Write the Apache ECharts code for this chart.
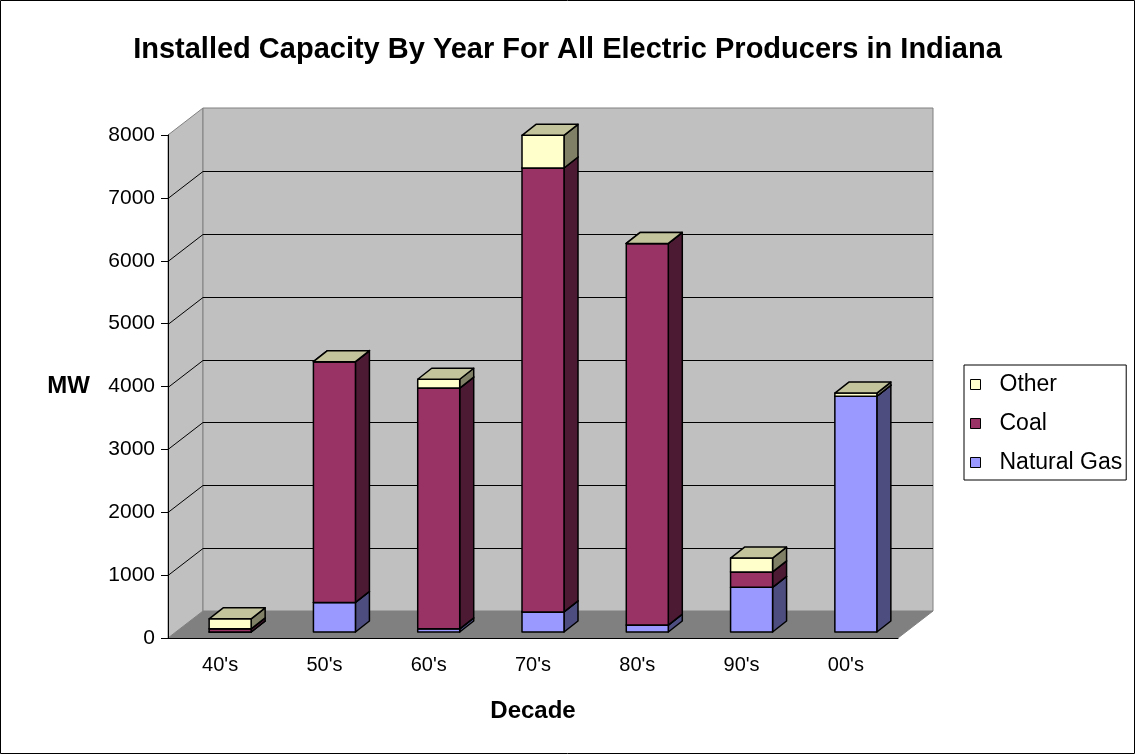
<!DOCTYPE html>
<html>
<head>
<meta charset="utf-8">
<title>Installed Capacity By Year For All Electric Producers in Indiana</title>
<script src="https://cdn.jsdelivr.net/npm/echarts@6/dist/echarts.min.js"></script>
<style>
  html, body { margin: 0; padding: 0; background: #fff; }
  #chart { width: 1135px; height: 754px; }
</style>
</head>
<body>
<div id="chart"></div>
<script>
// values (MW)
const decades = ["40's", "50's", "60's", "70's", "80's", "90's", "00's"];
const naturalGas = [0, 470, 50, 320, 110, 710, 3750];
const coal = [50, 3830, 3830, 7060, 6070, 245, 0];
const other = [160, 0, 140, 520, 0, 220, 50];
const yTicks = [0, 1000, 2000, 3000, 4000, 5000, 6000, 7000, 8000];

const font = "Arial, 'Liberation Sans', sans-serif";
// depth of the walls and of the boxes, in px
const DX = 35, DY = 27;
const BX = 14, BY = 11;

const palette = {
  "Natural Gas": { front: "#9999ff", side: "#4d4d80", top: "#7a7acc" },
  Coal: { front: "#993366", side: "#4d1a33", top: "#7a2952" },
  Other: { front: "#ffffcc", side: "#808066", top: "#c4c49c" },
};

// stack the segments: [categoryIndex, base, top]
function stackRows(lower, values) {
  return values.map((v, i) => {
    const base = lower.reduce((s, arr) => s + arr[i], 0);
    return [i, base, base + v];
  });
}

function wallItem(params, api) {
  const cs = params.coordSys;
  const x0 = cs.x, x1 = cs.x + cs.width;
  const y0 = api.coord([0, yTicks[0]])[1];
  const yT = api.coord([0, yTicks[yTicks.length - 1]])[1];
  const edge = { stroke: "#808080", lineWidth: 1 };
  const children = [
    {
      type: "polygon",
      shape: { points: [[x0, y0], [x1, y0], [x1 + DX, y0 - DY], [x0 + DX, y0 - DY]] },
      style: { fill: "#808080", ...edge },
    },
    {
      type: "polygon",
      shape: { points: [[x0, y0], [x0, yT], [x0 + DX, yT - DY], [x0 + DX, y0 - DY]] },
      style: { fill: "#c0c0c0", ...edge },
    },
    {
      type: "rect",
      shape: { x: x0 + DX, y: yT - DY, width: x1 - x0, height: y0 - yT },
      style: { fill: "#c0c0c0", ...edge },
    },
  ];
  yTicks.slice(1, -1).forEach((v) => {
    const y = Math.round(api.coord([0, v])[1]) + 0.5;
    children.push({
      type: "polyline",
      shape: { points: [[x0, y], [x0 + DX, y - DY], [x1 + DX, y - DY]] },
      style: { stroke: "#000", lineWidth: 1, fill: null },
    });
  });
  return { type: "group", children };
}

function boxItem(c) {
  return function (params, api) {
    const i = api.value(0);
    const b = api.coord([i, api.value(1)]);
    const t = api.coord([i, api.value(2)]);
    const xl = b[0] - 11, xr = b[0] + 31;
    const yb = b[1] - 6, yt = t[1] - 6;
    const line = { stroke: "#000", lineWidth: 1.5, lineJoin: "round" };
    return {
      type: "group",
      children: [
        {
          type: "polygon",
          shape: { points: [[xr, yb], [xr, yt], [xr + BX, yt - BY], [xr + BX, yb - BY]] },
          style: { fill: c.side, ...line },
        },
        {
          type: "rect",
          shape: { x: xl, y: yt, width: xr - xl, height: yb - yt },
          style: { fill: c.front, ...line },
        },
        {
          type: "polygon",
          shape: { points: [[xl, yt], [xr, yt], [xr + BX, yt - BY], [xl + BX, yt - BY]] },
          style: { fill: c.top, ...line },
        },
      ],
    };
  };
}

function boxSeries(name, rows) {
  return {
    name,
    type: "custom",
    renderItem: boxItem(palette[name]),
    itemStyle: { color: palette[name].front },
    encode: { x: 0, y: [1, 2] },
    data: rows,
  };
}

const chart = echarts.init(document.getElementById("chart"));
chart.setOption({
  animation: false,
  title: {
    text: "Installed Capacity By Year For All Electric Producers in Indiana",
    left: "center",
    top: 35,
    padding: 0,
    textStyle: { fontFamily: font, fontSize: 29, fontWeight: "bold", color: "#000" },
  },
  legend: {
    orient: "vertical",
    left: 964,
    top: 365,
    data: ["Other", "Coal", "Natural Gas"],
    backgroundColor: "#fff",
    borderColor: "#000",
    borderWidth: 1,
    borderRadius: 0,
    padding: [8, 4, 6, 6],
    itemGap: 16,
    itemWidth: 10,
    itemHeight: 10,
    icon: "rect",
    itemStyle: { borderColor: "#000", borderWidth: 1 },
    textStyle: { fontFamily: font, fontSize: 23, color: "#000", padding: [0, 0, 0, 14] },
  },
  graphic: [
    {
      type: "rect",
      shape: { x: 0.5, y: 0.5, width: 1134, height: 753 },
      style: { fill: null, stroke: "#000", lineWidth: 1 },
      silent: true,
    },
  ],
  grid: { left: 168, top: 135, width: 730, height: 503 },
  xAxis: {
    type: "category",
    data: decades,
    name: "Decade",
    nameLocation: "middle",
    nameGap: 61,
    nameTextStyle: { fontFamily: font, fontSize: 24, fontWeight: "bold", color: "#000" },
    axisLine: { lineStyle: { color: "#000", width: 1 } },
    axisTick: { length: 8, lineStyle: { color: "#000" } },
    axisLabel: { fontFamily: font, fontSize: 20, color: "#000", margin: 17 },
  },
  yAxis: {
    type: "value",
    min: 0,
    max: 8000,
    interval: 1000,
    name: "MW",
    nameLocation: "middle",
    nameRotate: 0,
    nameGap: 78,
    nameTextStyle: { fontFamily: font, fontSize: 24, fontWeight: "bold", color: "#000" },
    axisLine: { show: true, lineStyle: { color: "#000", width: 1 } },
    axisTick: { show: true, length: 7, lineStyle: { color: "#000" } },
    axisLabel: {
      fontFamily: font,
      fontSize: 21,
      color: "#000",
      margin: 13,
      formatter: (v) => String(v),
    },
    splitLine: { show: false },
  },
  series: [
    {
      name: "walls",
      type: "custom",
      z: -1,
      silent: true,
      renderItem: wallItem,
      encode: { x: 0, y: 1 },
      data: [[0, 0]],
    },
    boxSeries("Natural Gas", stackRows([], naturalGas)),
    boxSeries("Coal", stackRows([naturalGas], coal)),
    boxSeries("Other", stackRows([naturalGas, coal], other)),
  ],
});
</script>
</body>
</html>
